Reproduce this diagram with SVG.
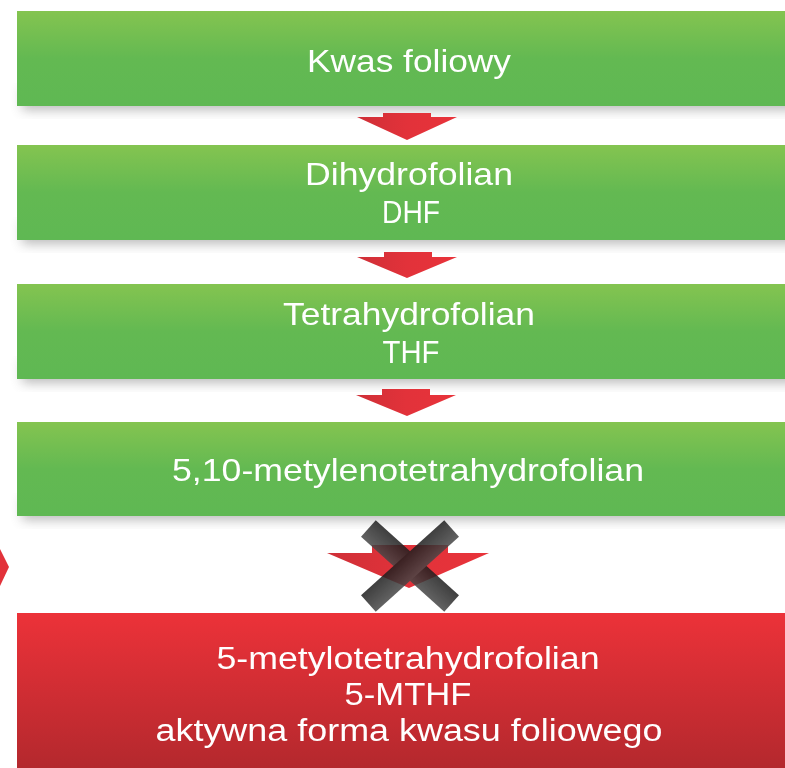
<svg xmlns="http://www.w3.org/2000/svg" width="785" height="768" viewBox="0 0 785 768">
<defs>
<linearGradient id="gG" x1="0" y1="0" x2="0" y2="1">
<stop offset="0" stop-color="#84c450"/>
<stop offset="0.5" stop-color="#63b952"/>
<stop offset="1" stop-color="#5fb853"/>
</linearGradient>
<linearGradient id="gR" x1="0" y1="0" x2="0" y2="1">
<stop offset="0" stop-color="#ec3239"/>
<stop offset="1" stop-color="#b2282d"/>
</linearGradient>
<linearGradient id="gA" x1="0" y1="0" x2="1" y2="0">
<stop offset="0" stop-color="#cf2f37"/>
<stop offset="0.5" stop-color="#e2323a"/>
<stop offset="1" stop-color="#e8333a"/>
</linearGradient>
<linearGradient id="gX" x1="0" y1="0" x2="0" y2="1">
<stop offset="0" stop-color="#1e1e1e"/>
<stop offset="1" stop-color="#474747"/>
</linearGradient>
<filter id="sh" x="-0.05" y="-0.2" width="1.1" height="1.6">
<feGaussianBlur stdDeviation="6"/>
</filter>
<style>
.t{font-family:"Liberation Sans",Arial,Helvetica,sans-serif;font-size:32px;fill:#ffffff;text-anchor:middle;}
.s{font-size:31px;}
.arr{fill:url(#gA);}
</style>
</defs>
<rect width="785" height="768" fill="#ffffff"/>
<g id="shadows" opacity="0.45">
<rect x="22" y="88" width="800" height="22" fill="#666" filter="url(#sh)"/>
<rect x="22" y="222" width="800" height="22" fill="#666" filter="url(#sh)"/>
<rect x="22" y="361" width="800" height="22" fill="#666" filter="url(#sh)"/>
<rect x="22" y="498" width="800" height="22" fill="#666" filter="url(#sh)"/>
</g>
<g id="connectors">
<polygon class="arr" points="383,113 431,113 431,117 457,117 407,140 357,117 383,117"/>
<polygon class="arr" points="384,252 432,252 432,257 457,257 407,278 357,257 384,257"/>
<polygon class="arr" points="382,389 430,389 430,395 456,395 407,416 356,395 382,395"/>
<polygon class="arr" points="372,545 448,545 448,553 489,553 409,588 327,553 372,553"/>
<g id="cross" opacity="0.85">
<rect x="354" y="555" width="112" height="22" fill="url(#gX)" transform="rotate(42 410 566)"/>
<rect x="354" y="555" width="112" height="22" fill="url(#gX)" transform="rotate(-42 410 566)"/>
</g>
<polygon points="0,549 9,567 0,586" fill="#e2323a"/>
</g>
<g id="n1">
<rect x="17" y="11" width="800" height="95" fill="url(#gG)"/>
<text class="t" x="409" y="72" textLength="204" lengthAdjust="spacingAndGlyphs">Kwas foliowy</text>
</g>
<g id="n2">
<rect x="17" y="145" width="800" height="95" fill="url(#gG)"/>
<text class="t" x="409" y="185" textLength="208" lengthAdjust="spacingAndGlyphs">Dihydrofolian</text>
<text class="t" x="411" y="223" textLength="58" lengthAdjust="spacingAndGlyphs">DHF</text>
</g>
<g id="n3">
<rect x="17" y="284" width="800" height="95" fill="url(#gG)"/>
<text class="t" x="409" y="325" textLength="252" lengthAdjust="spacingAndGlyphs">Tetrahydrofolian</text>
<text class="t" x="411" y="363" textLength="57" lengthAdjust="spacingAndGlyphs">THF</text>
</g>
<g id="n4">
<rect x="17" y="422" width="800" height="94" fill="url(#gG)"/>
<text class="t" x="408" y="481" textLength="472" lengthAdjust="spacingAndGlyphs">5,10-metylenotetrahydrofolian</text>
</g>
<g id="n5">
<rect x="17" y="613" width="800" height="160" fill="url(#gR)"/>
<text class="t s" x="408" y="669" textLength="383" lengthAdjust="spacingAndGlyphs">5-metylotetrahydrofolian</text>
<text class="t s" x="408" y="705" textLength="127" lengthAdjust="spacingAndGlyphs">5-MTHF</text>
<text class="t s" x="409" y="741" textLength="507" lengthAdjust="spacingAndGlyphs">aktywna forma kwasu foliowego</text>
</g>
</svg>
